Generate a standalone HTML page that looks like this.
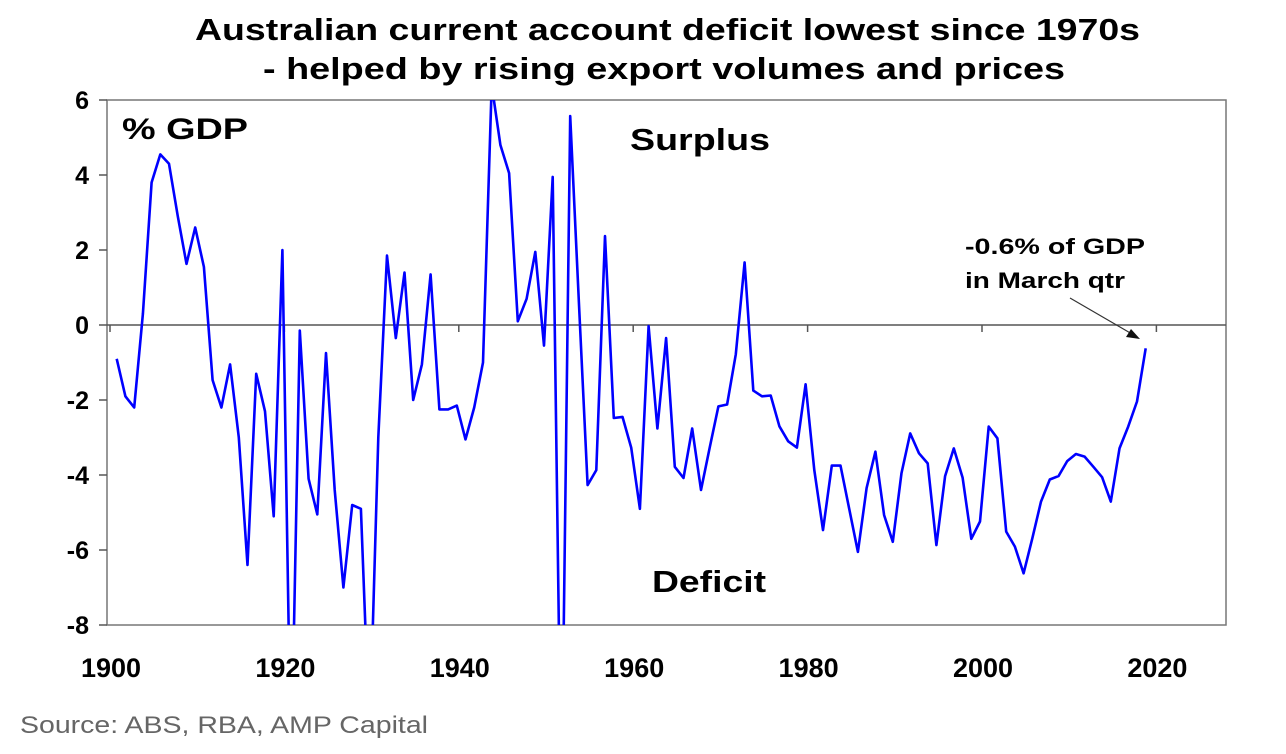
<!DOCTYPE html>
<html><head><meta charset="utf-8"><style>
html,body{margin:0;background:#fff;overflow:hidden;width:1286px;height:754px;}
svg{display:block;font-family:"Liberation Sans",Arial,sans-serif;}
</style></head><body>
<svg id="chart" width="1286" height="754">
<text x="195" y="40" textLength="945" lengthAdjust="spacingAndGlyphs" font-size="31" font-weight="bold">Australian current account deficit lowest since 1970s</text>
<text x="263" y="79" textLength="802" lengthAdjust="spacingAndGlyphs" font-size="31" font-weight="bold">- helped by rising export volumes and prices</text>
<rect x="107" y="100" width="1119" height="525" fill="none" stroke="#777" stroke-width="1.5"/>
<g id="yaxis"></g>
<g id="xaxis"></g>
<line id="zero" stroke="#555" stroke-width="1.5"/>
<clipPath id="clip"><rect x="107" y="100" width="1119" height="525"/></clipPath>
<path id="series" fill="none" stroke="#0000ff" stroke-width="2.6" stroke-linejoin="round" clip-path="url(#clip)"/>
<text x="122" y="139" textLength="126" lengthAdjust="spacingAndGlyphs" font-size="30" font-weight="bold">% GDP</text>
<text x="630" y="150" textLength="140" lengthAdjust="spacingAndGlyphs" font-size="31" font-weight="bold">Surplus</text>
<text x="652" y="592" textLength="114" lengthAdjust="spacingAndGlyphs" font-size="31" font-weight="bold">Deficit</text>
<text x="965" y="254" textLength="180" lengthAdjust="spacingAndGlyphs" font-size="22" font-weight="bold">-0.6% of GDP</text>
<text x="965" y="288" textLength="160" lengthAdjust="spacingAndGlyphs" font-size="22" font-weight="bold">in March qtr</text>
<line x1="1070" y1="298" x2="1132" y2="334" stroke="#333" stroke-width="1.2"/>
<polygon points="1140,339 1126,337 1131,329" fill="#111"/>
<text x="20" y="733" textLength="408" lengthAdjust="spacingAndGlyphs" font-size="24" fill="#666">Source: ABS, RBA, AMP Capital</text>
</svg>
<script>
const startYear = 1901;
const values = [
-0.9,-1.9,-2.2,0.3,3.8,4.55,4.3,2.9,1.63,2.6,
1.55,-1.47,-2.2,-1.05,-3.0,-6.4,-1.3,-2.3,-5.1,2.0,
-12,-0.15,-4.1,-5.05,-0.75,-4.4,-7.0,-4.8,-4.9,-11,
-3,1.85,-0.35,1.4,-2.0,-1.05,1.35,-2.25,-2.25,-2.15,
-3.05,-2.2,-1.0,6.4,4.8,4.05,0.1,0.7,1.95,-0.55,
3.95,-13,5.57,0.6,-4.27,-3.87,2.37,-2.48,-2.45,-3.27,
-4.9,-0.03,-2.76,-0.35,-3.78,-4.08,-2.76,-4.4,-3.27,-2.17,
-2.12,-0.78,1.67,-1.75,-1.9,-1.88,-2.7,-3.1,-3.27,-1.58,
-3.87,-5.47,-3.75,-3.75,-4.9,-6.05,-4.35,-3.38,-5.07,-5.78,
-3.95,-2.89,-3.42,-3.69,-5.87,-4.03,-3.29,-4.07,-5.7,-5.24,
-2.71,-3.02,-5.51,-5.91,-6.62,-5.69,-4.71,-4.12,-4.03,-3.63,
-3.44,-3.51,-3.78,-4.06,-4.71,-3.29,-2.71,-2.04,-0.62];
const yTicks = [6,4,2,0,-2,-4,-6,-8];
const xTicks = [1900,1920,1940,1960,1980,2000,2020];
const NS='http://www.w3.org/2000/svg';
function xs(yr){return 108+8.72*(yr-1900);}
function ys(v){return 100+(6-v)*37.5;}
const ya=document.getElementById('yaxis');
yTicks.forEach(v=>{
 const l=document.createElementNS(NS,'line');
 l.setAttribute('x1',99);l.setAttribute('x2',107);l.setAttribute('y1',ys(v));l.setAttribute('y2',ys(v));
 l.setAttribute('stroke','#555');l.setAttribute('stroke-width','1.5');
 
 
 ya.appendChild(l);
 const t=document.createElementNS(NS,'text');
 t.setAttribute('x',89);t.setAttribute('y',ys(v)+9);t.setAttribute('text-anchor','end');
 t.setAttribute('font-size','25');t.setAttribute('font-weight','bold');
 t.textContent=v;
 
 
 ya.appendChild(t);
});
const xa=document.getElementById('xaxis');
xTicks.forEach(yr=>{
 const l=document.createElementNS(NS,'line');
 l.setAttribute('x1',xs(yr)+2);l.setAttribute('x2',xs(yr)+2);l.setAttribute('y1',ys(0));l.setAttribute('y2',ys(0)+7);
 l.setAttribute('stroke','#555');l.setAttribute('stroke-width','1.5');
 
 
 xa.appendChild(l);
 const t=document.createElementNS(NS,'text');
 t.setAttribute('x',xs(yr)+3);t.setAttribute('y',677);t.setAttribute('text-anchor','middle');
 t.setAttribute('font-size','27');t.setAttribute('font-weight','bold');
 t.textContent=yr;
 
 
 xa.appendChild(t);
});
const z=document.getElementById('zero');
z.setAttribute('x1',107);z.setAttribute('x2',1226);z.setAttribute('y1',ys(0));z.setAttribute('y2',ys(0));
let d='';
values.forEach((v,i)=>{d+=(i?'L':'M')+xs(startYear+i).toFixed(1)+','+ys(v).toFixed(1);});
document.getElementById('series').setAttribute('d',d);
</script>
</body></html>
